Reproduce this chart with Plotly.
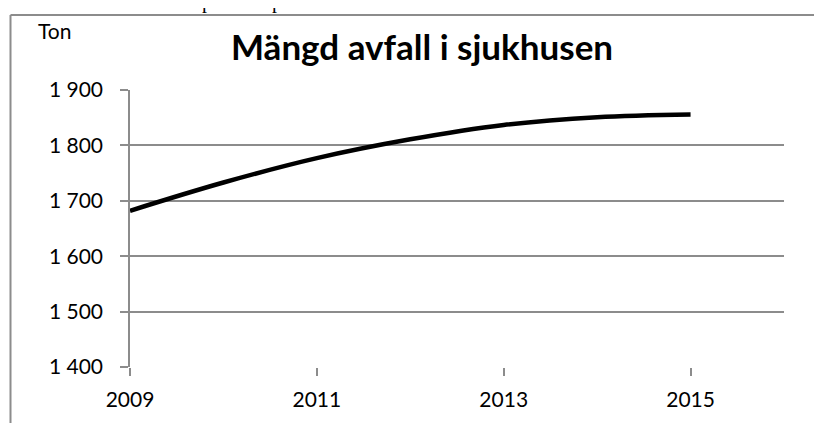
import plotly.graph_objects as go

years = [2009, 2010, 2011, 2012, 2013, 2014, 2015]
ton = [1682, 1733, 1777, 1811, 1837, 1851, 1856]

y_ticks = [1400, 1500, 1600, 1700, 1800, 1900]
y_tick_labels = ["1 400", "1 500", "1 600", "1 700", "1 800", "1 900"]
x_ticks = [2009, 2011, 2013, 2015]
x_tick_labels = ["2009", "2011", "2013", "2015"]

title_text = "Mängd avfall i sjukhusen"
unit_text = "Ton"

OFF = 8  # page body margin
W, H = 822 - OFF, 423 - OFF
# plot area in reference (window) pixels
PL, PR, PT, PB = 130, 784, 90, 367
ML, MR, MT, MB = PL - OFF, W - (PR - OFF), PT - OFF, H - (PB - OFF)
PW, PH = PR - PL, PB - PT

def px(x):  # window pixel -> paper x
    return (x - PL) / PW

def py(y):  # window pixel -> paper y
    return (PB - y) / PH

grid = "#8c8c8c"
font = "Lato, 'Liberation Sans', sans-serif"

fig = go.Figure()
fig.add_trace(go.Scatter(
    x=years, y=ton, mode="lines",
    line=dict(color="black", width=4.5, shape="spline", smoothing=1.0),
    hoverinfo="skip", showlegend=False,
))

fig.update_layout(
    width=W, height=H,
    margin=dict(l=ML, r=MR, t=MT, b=MB, pad=0),
    paper_bgcolor="white", plot_bgcolor="white",
    showlegend=False,
    font=dict(family=font, color="black", size=21),
    xaxis=dict(
        range=[2009, 2016], tickvals=x_ticks, ticktext=x_tick_labels,
        showgrid=False, zeroline=False, showline=False,
        ticks="outside", ticklen=8, tickwidth=1.5, tickcolor=grid,
        ticklabelstandoff=6,
        tickfont=dict(size=21, family=font), fixedrange=True,
    ),
    yaxis=dict(
        range=[1400, 1900], tickvals=y_ticks, ticktext=y_tick_labels,
        showgrid=True, gridcolor=grid, gridwidth=1.5, zeroline=False,
        showline=True, linecolor=grid, linewidth=1.5,
        ticks="outside", ticklen=8, tickwidth=1.5, tickcolor=grid,
        ticklabelstandoff=13,
        tickfont=dict(size=21, family=font), fixedrange=True,
    ),
    shapes=[
        dict(type="line", xref="paper", yref="paper",
             x0=px(10.5), y0=py(430), x1=px(10.5), y1=py(15),
             line=dict(color=grid, width=2)),
        dict(type="line", xref="paper", yref="paper",
             x0=px(10.5), y0=py(15), x1=px(830), y1=py(15),
             line=dict(color=grid, width=2)),
    ],
    annotations=[
        dict(text="<b>" + title_text + "</b>", xref="paper", yref="paper",
             x=px(422), y=py(46), xanchor="center", yanchor="middle",
             showarrow=False, font=dict(size=35, family=font, color="black")),
        dict(text=unit_text, xref="paper", yref="paper",
             x=px(36), y=py(30), xanchor="left", yanchor="middle",
             showarrow=False, font=dict(size=21, family="'Liberation Sans Narrow', Lato, sans-serif", color="black")),
        dict(text="p", xref="paper", yref="paper",
             x=px(207), y=py(1), xanchor="center", yanchor="middle",
             showarrow=False, font=dict(size=20, family="'Liberation Serif', serif", color="black")),
        dict(text="p", xref="paper", yref="paper",
             x=px(277), y=py(1), xanchor="center", yanchor="middle",
             showarrow=False, font=dict(size=20, family="'Liberation Serif', serif", color="black")),
    ],
)

fig.write_html("out.html", config={"displayModeBar": False})
